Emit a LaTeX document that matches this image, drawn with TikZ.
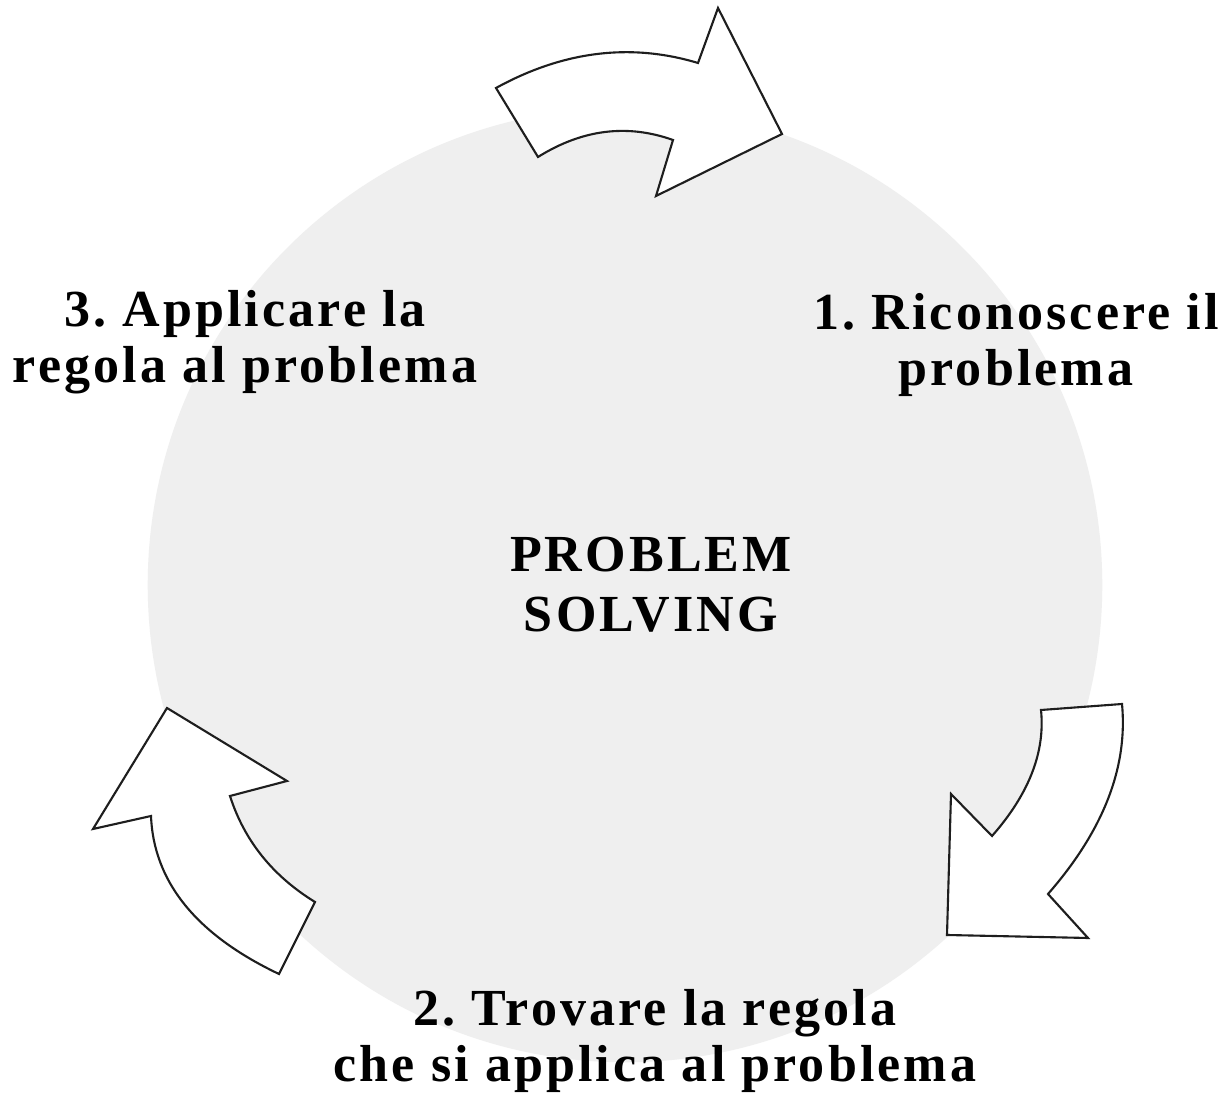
\documentclass[tikz,border=0pt]{standalone}
\usepackage{fontspec}
\newfontfamily\lblfont{Liberation Serif}[LetterSpace=6]
\definecolor{discgray}{RGB}{239,239,239}
\definecolor{edgegray}{RGB}{30,30,30}
\frenchspacing
\begin{document}
\begin{tikzpicture}[x=0.01cm,y=-0.01cm,
  bigarrow/.style={draw=edgegray,fill=white,line width=0.6pt,line join=miter},
  lbl/.style={font=\lblfont\bfseries\fontsize{14.8}{16.0}\selectfont\frenchspacing,align=center,inner sep=0pt,text=black},
  ctr/.style={font=\lblfont\bfseries\fontsize{14.8}{17.1}\selectfont\frenchspacing,align=center,inner sep=0pt,text=black}]
\useasboundingbox[fill=white] (0,0) rectangle (1230,1095);
\fill[discgray] (625,585) circle (4.77cm);
% top arrow
\draw[bigarrow] (496,88) -- (538,157) .. controls (582.3,129.3) and (627.3,123.7) .. (673,140) -- (656,196) -- (782,134) -- (718,8) -- (698,63) .. controls (630.7,42.7) and (563.3,51) .. (496,88) -- cycle;
% right arrow
\draw[bigarrow] (1041,710) -- (1122,704) .. controls (1128,767.3) and (1103.3,830.7) .. (1048,894) -- (1088,938) -- (947,935) -- (951,794) -- (992,836) .. controls (1029,794) and (1045.3,752) .. (1041,710) -- cycle;
% left arrow
\draw[bigarrow] (167,708) -- (287,781) -- (230,796) .. controls (244.3,840.7) and (272.7,876) .. (315,902) -- (279,974) .. controls (196.3,934.7) and (153.7,882) .. (151,816) -- (93,829) -- cycle;
% labels (base anchor = baseline of the last line)
\node[lbl,anchor=base] (step1) at (1016,386) {1. Riconoscere il\\problema};
\node[lbl,anchor=base] (step3) at (245,383) {3. Applicare la\\regola al problema};
\node[lbl,anchor=base] (step2) at (655,1082) {2. Trovare la regola\\che si applica al problema};
\node[ctr,anchor=base] (title) at (651,632) {PROBLEM\\SOLVING};
\end{tikzpicture}
\end{document}
